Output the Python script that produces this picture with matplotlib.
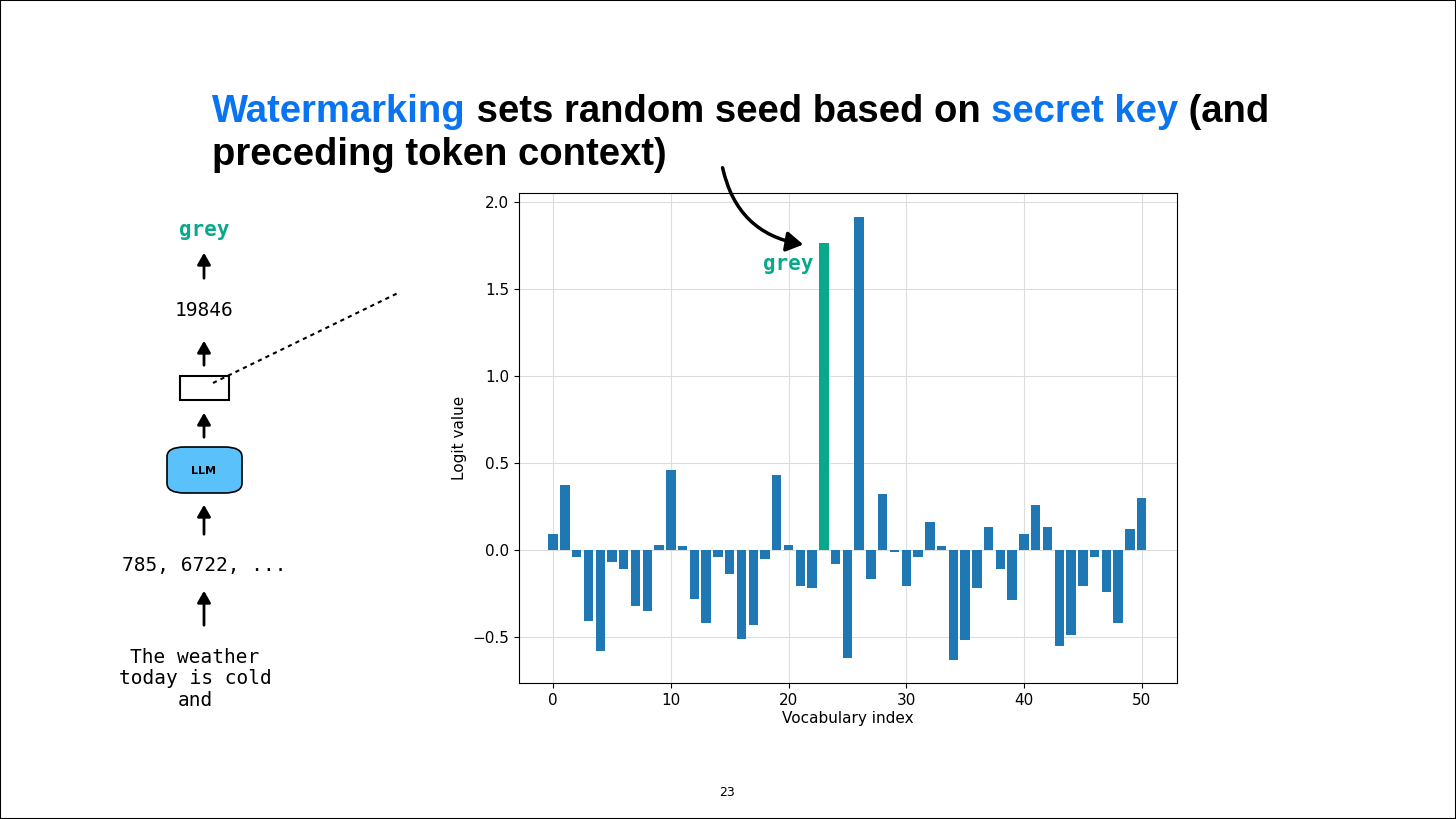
import matplotlib.pyplot as plt
from matplotlib.patches import FancyBboxPatch, Rectangle, FancyArrowPatch
from matplotlib.text import Annotation

# logit values per vocabulary index
vocab_idx = list(range(51))
logits = [0.09, 0.37, -0.04, -0.41, -0.58, -0.07, -0.11, -0.32, -0.35, 0.03,
          0.46, 0.02, -0.28, -0.42, -0.04, -0.14, -0.51, -0.43, -0.05, 0.43,
          0.03, -0.21, -0.22, 1.76, -0.08, -0.62, 1.91, -0.17, 0.32, -0.01,
          -0.21, -0.04, 0.16, 0.02, -0.63, -0.52, -0.22, 0.13, -0.11, -0.29,
          0.09, 0.26, 0.13, -0.55, -0.49, -0.21, -0.04, -0.24, -0.42, 0.12,
          0.30]
chosen = 23
chosen_word = "grey"
token_id = "19846"
input_ids = "785, 6722, ..."
input_text = "The weather\ntoday is cold\nand"

blue = '#1f77b4'
green = '#0aa88a'
title_blue = '#0a74f0'

fig = plt.figure(figsize=(14.56, 8.19), dpi=100)
W, H = 1456, 819
def fx(x): return x / W
def fy(y): return 1 - y / H

# slide frame
fig.patches.append(Rectangle((0, 0), 1, 1, transform=fig.transFigure, fill=False,
                             edgecolor='black', linewidth=1.5))

# title, mixed colours chained word groups
tkw = dict(fontsize=27.5, fontweight='bold', family=['Liberation Sans', 'DejaVu Sans'])
title_parts = [("Watermarking", title_blue), (" sets random seed based on ", 'black'),
               ("secret key", title_blue), (" (and", 'black')]
ref = fig.text(fx(212), fy(122), title_parts[0][0], color=title_parts[0][1],
               va='baseline', **tkw)
for s, c in title_parts[1:]:
    an = Annotation(s, xy=(1, 0), xycoords=ref, va='bottom', color=c,
                    annotation_clip=False, **tkw)
    fig.add_artist(an)
    ref = an
fig.text(fx(212), fy(165), "preceding token context)", color='black', va='baseline', **tkw)

# main bar chart
ax = fig.add_axes([fx(519), fy(683), (1177 - 519) / W, (683 - 193) / H])
colors = [green if i == chosen else blue for i in vocab_idx]
ax.bar(vocab_idx, logits, color=colors, width=0.8)
ax.set_xlim(-2.9, 53.0)
ax.set_ylim(-0.765, 2.05)
ax.set_yticks([-0.5, 0.0, 0.5, 1.0, 1.5, 2.0])
ax.set_xticks([0, 10, 20, 30, 40, 50])
ax.grid(True, color='#dddddd', linewidth=0.8)
ax.set_axisbelow(True)
ax.tick_params(labelsize=11)
ax.set_xlabel("Vocabulary index", fontsize=11, labelpad=2)
ax.set_ylabel("Logit value", fontsize=11)
ax.text(chosen - 0.9, logits[chosen] - 0.15, chosen_word, color=green, ha='right',
        fontsize=15, fontweight='bold', family='DejaVu Sans Mono')

# curved arrow from title to chosen bar
fig.add_artist(FancyArrowPatch(
    (fx(722), fy(165)), (fx(806), fy(245)), transform=fig.transFigure,
    connectionstyle='arc3,rad=0.35', arrowstyle='-|>,head_length=10,head_width=6',
    color='black', linewidth=2.5))

# left-hand pipeline diagram
mono = dict(family='DejaVu Sans Mono', ha='center', va='center')
fig.text(fx(204), fy(230), chosen_word, color=green, fontsize=15, fontweight='bold', **mono)
fig.text(fx(204), fy(310), token_id, color='black', fontsize=14, **mono)
fig.text(fx(204), fy(565), input_ids, color='black', fontsize=14, **mono)
fig.text(fx(195), fy(679), input_text, color='black', fontsize=14, linespacing=1.15, **mono)

def up_arrow(x, y0, y1):
    fig.add_artist(FancyArrowPatch(
        (fx(x), fy(y0)), (fx(x), fy(y1)), transform=fig.transFigure,
        arrowstyle='-|>,head_length=7,head_width=4', color='black', linewidth=2))

up_arrow(204, 281, 250)
up_arrow(204, 368, 338)
up_arrow(204, 440, 410)
up_arrow(204, 537, 502)
up_arrow(204, 628, 588)

fig.patches.append(Rectangle((fx(180), fy(400)), 49 / W, 24 / H, transform=fig.transFigure,
                             fill=False, edgecolor='black', linewidth=1.5))
fig.patches.append(FancyBboxPatch((fx(167), fy(493)), 75 / W, 46 / H,
                                  boxstyle='round,pad=0,rounding_size=0.012',
                                  transform=fig.transFigure, facecolor='#5ac1fb',
                                  edgecolor='black', linewidth=1.2))
fig.text(fx(204), fy(471), "LLM", fontsize=8, fontweight='bold', ha='center', va='center')
fig.add_artist(plt.Line2D([fx(213), fx(398)], [fy(383), fy(293)], transform=fig.transFigure,
                          color='black', linestyle=(0, (2, 2)), linewidth=1.5))

fig.text(fx(727), fy(792), "23", fontsize=9, ha='center', va='center')

fig.savefig('out.png', dpi=100)
